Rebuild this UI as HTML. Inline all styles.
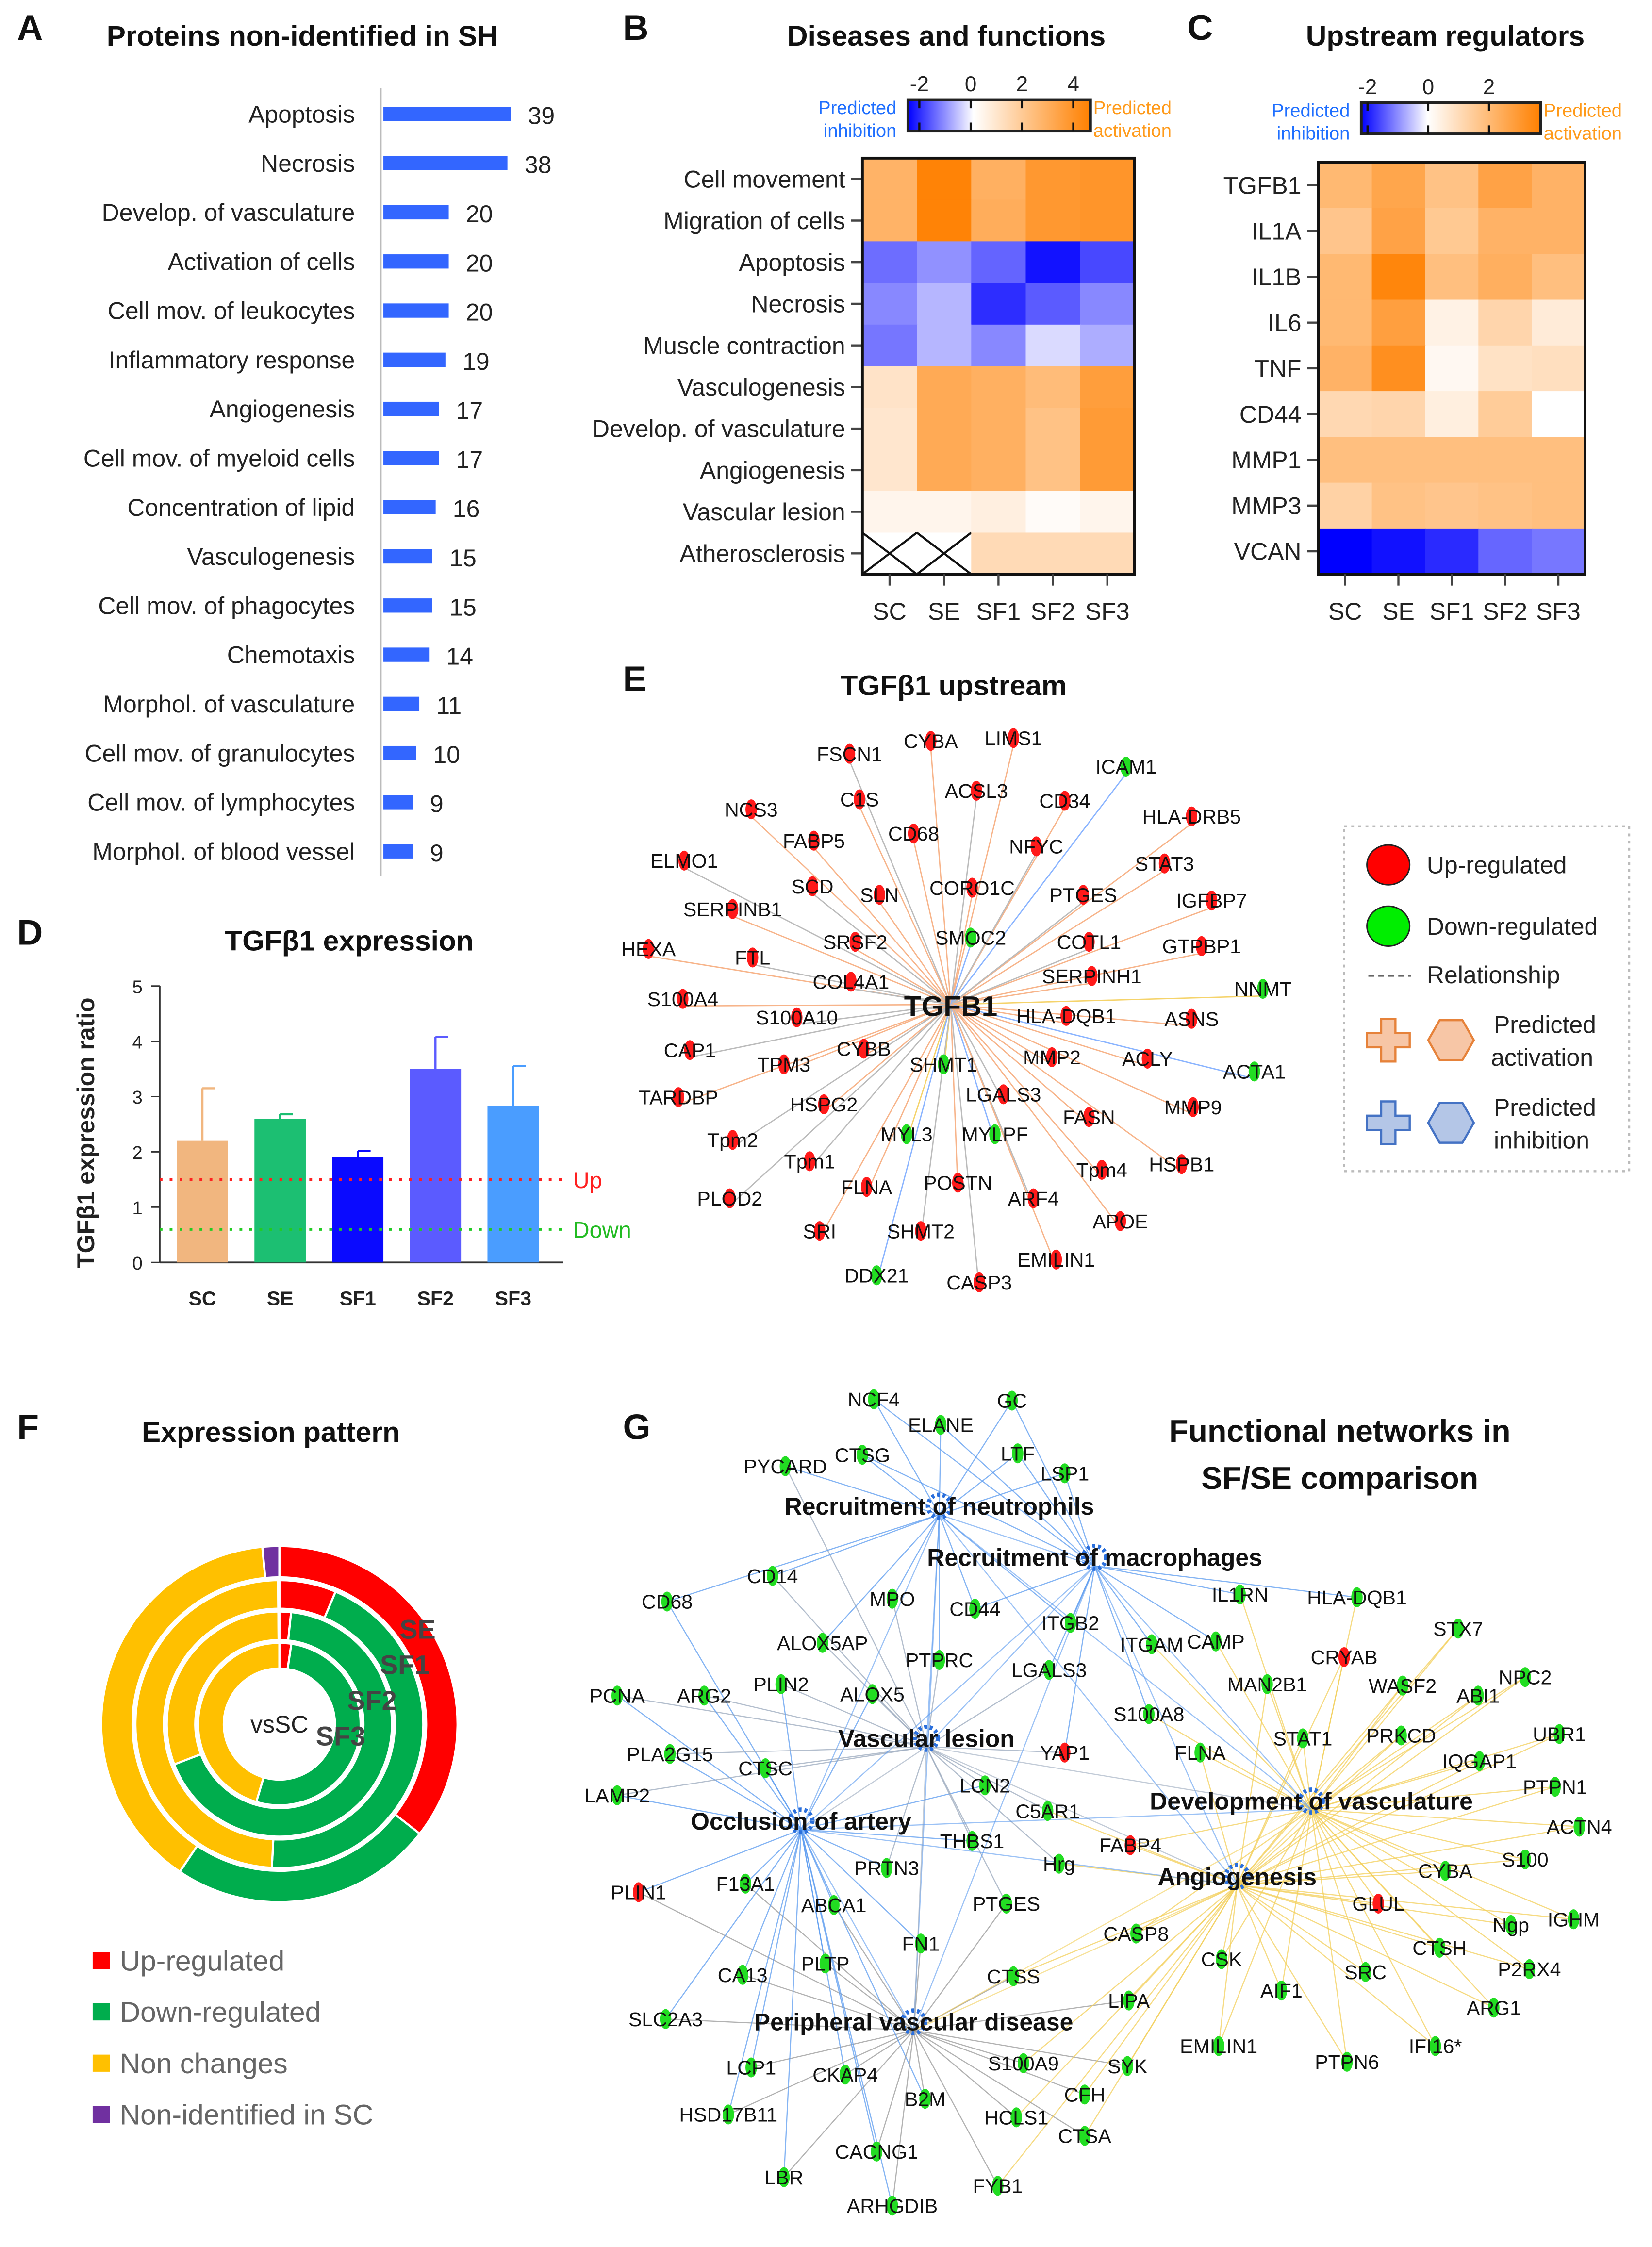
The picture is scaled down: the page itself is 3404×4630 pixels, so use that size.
<!DOCTYPE html>
<html><head><meta charset="utf-8"><style>
html,body{margin:0;padding:0;background:#fff}
svg{display:block;font-family:"Liberation Sans",Arial,sans-serif}
</style></head><body>
<svg id="fig" width="3404" height="4630" viewBox="0 0 1159 1577" preserveAspectRatio="none" xmlns="http://www.w3.org/2000/svg">
<defs>
<linearGradient id="gB" x1="0" x2="1"><stop offset="0" stop-color="#0000ff"/><stop offset="0.36" stop-color="#fff"/><stop offset="1" stop-color="#ff8000"/></linearGradient>
<linearGradient id="gC" x1="0" x2="1"><stop offset="0" stop-color="#0000ff"/><stop offset="0.37" stop-color="#fff"/><stop offset="1" stop-color="#ff8000"/></linearGradient>
</defs>
<g id="layer"></g>
</svg>
<script>
// ---------- Panel A data ----------
const aCats=["Apoptosis","Necrosis","Develop. of vasculature","Activation of cells","Cell mov. of leukocytes","Inflammatory response","Angiogenesis","Cell mov. of myeloid cells","Concentration of lipid","Vasculogenesis","Cell mov. of phagocytes","Chemotaxis","Morphol. of vasculature","Cell mov. of granulocytes","Cell mov. of lymphocytes","Morphol. of blood vessel"];
const aVals=[39,38,20,20,20,19,17,17,16,15,15,14,11,10,9,9];
// ---------- Panel B data ----------
const bRows=["Cell movement","Migration of cells","Apoptosis","Necrosis","Muscle contraction","Vasculogenesis","Develop. of vasculature","Angiogenesis","Vascular lesion","Atherosclerosis"];
const bCols=["SC","SE","SF1","SF2","SF3"];
const bVals=[[2.5,4.1,2.6,3.4,3.5],[2.5,4.1,2.7,3.4,3.5],[-1.6,-1.2,-1.7,-2.6,-2.0],[-1.3,-0.8,-2.3,-1.8,-1.3],[-1.5,-0.8,-1.3,-0.4,-0.9],[0.9,2.8,2.6,2.2,3.2],[0.8,2.8,2.6,2.0,3.3],[0.8,2.8,2.6,2.0,3.3],[0.3,0.3,0.5,0.1,0.3],[null,null,1.2,1.2,1.2]];
const bTicks=[-2,0,2,4];
// ---------- Panel C data ----------
const cRows=["TGFB1","IL1A","IL1B","IL6","TNF","CD44","MMP1","MMP3","VCAN"];
const cVals=[[2.2,2.8,1.9,2.9,2.4],[1.8,2.9,1.7,2.4,2.4],[2.2,3.8,2.0,2.5,2.0],[2.2,3.0,0.4,1.3,0.6],[2.4,3.5,0.2,0.9,1.0],[1.2,1.3,0.5,1.6,0],[2.0,2.0,2.0,2.0,2.0],[1.4,1.9,1.8,1.9,2.0],[-3.0,-2.8,-2.5,-1.8,-1.6]];
const cTicks=[-2,0,2];
// ---------- Panel D data ----------
const dCats=["SC","SE","SF1","SF2","SF3"];
const dVals=[2.2,2.6,1.9,3.5,2.83];
const dErr=[0.95,0.08,0.12,0.58,0.72];
const dTicks=[0,1,2,3,4,5];
const dUp=1.5, dDown=0.6;
// ---------- Panel F data (degrees clockwise from top) ----------
const fRings=["SE","SF1","SF2","SF3"];
const fUp=[128,23,6,8.5];
const fDown=[86,160,243,188];
const fNon=[140.5,176.5,110.5,163.5];
const fNonId=[5.5,0.5,0.5,0];
// ---------- Panel E nodes ----------
const eNodes=[["FSCN1",596,534,"r"],["CYBA",653,525,"r"],["LIMS1",711,523,"r"],["ICAM1",790,543,"g"],["NCS3",527,573,"r"],["C1S",603,566,"r"],["ACSL3",685,560,"r"],["CD34",747,567,"r"],["HLA-DRB5",836,578,"r"],["ELMO1",480,609,"r"],["FABP5",571,595,"r"],["CD68",641,590,"r"],["NFYC",727,599,"r"],["STAT3",817,611,"r"],["SERPINB1",514,643,"r"],["SCD",570,627,"r"],["SLN",617,633,"r"],["CORO1C",682,628,"r"],["PTGES",760,633,"r"],["IGFBP7",850,637,"r"],["HEXA",455,671,"r"],["FTL",528,677,"r"],["SRSF2",600,666,"r"],["SMOC2",681,663,"g"],["COTL1",764,666,"r"],["GTPBP1",843,669,"r"],["NNMT",886,699,"g"],["COL4A1",597,694,"r"],["SERPINH1",766,690,"r"],["S100A4",479,706,"r"],["S100A10",559,719,"r"],["HLA-DQB1",748,718,"r"],["ASNS",836,720,"r"],["CAP1",484,742,"r"],["CYBB",606,741,"r"],["TPM3",550,752,"r"],["SHMT1",662,752,"g"],["MMP2",738,747,"r"],["ACLY",805,748,"r"],["ACTA1",880,757,"g"],["TARDBP",476,775,"r"],["HSPG2",578,780,"r"],["LGALS3",704,773,"r"],["FASN",764,789,"r"],["MMP9",837,782,"r"],["Tpm2",514,805,"r"],["MYL3",636,801,"g"],["MYLPF",698,801,"g"],["Tpm1",568,820,"r"],["HSPB1",829,822,"r"],["Tpm4",773,826,"r"],["PLOD2",512,846,"r"],["FLNA",608,838,"r"],["POSTN",672,835,"r"],["ARF4",725,846,"r"],["APOE",786,862,"r"],["SRI",575,869,"r"],["SHMT2",646,869,"r"],["EMILIN1",741,889,"r"],["DDX21",615,900,"g"],["CASP3",687,905,"r"]];
// ---------- Panel G ----------
const gHubs=[["Recruitment of neutrophils",659,1063],["Recruitment of macrophages",768,1099],["Vascular lesion",650,1226],["Occlusion of artery",562,1284],["Development of vasculature",920,1270],["Angiogenesis",868,1323],["Peripheral vascular disease",641,1425]];
const gNodes=[["NCF4",613,987,"g"],["GC",710,988,"g"],["ELANE",660,1005,"g"],["LTF",714,1025,"g"],["PYCARD",551,1034,"g"],["CTSG",605,1026,"g"],["LSP1",747,1039,"g"],["CD14",542,1111,"g"],["CD68",468,1129,"g"],["MPO",626,1127,"g"],["CD44",684,1134,"g"],["IL1RN",870,1124,"g"],["HLA-DQB1",952,1126,"g"],["STX7",1023,1148,"g"],["ALOX5AP",577,1158,"g"],["ITGB2",751,1144,"g"],["ITGAM",808,1159,"g"],["CAMP",853,1157,"g"],["PTPRC",659,1170,"g"],["CRYAB",943,1168,"r"],["NPC2",1070,1182,"g"],["PCNA",433,1195,"g"],["ARG2",494,1195,"g"],["PLIN2",548,1187,"g"],["ALOX5",612,1194,"g"],["LGALS3",736,1177,"g"],["MAN2B1",889,1187,"g"],["WASF2",984,1188,"g"],["ABI1",1037,1195,"g"],["S100A8",806,1208,"g"],["UBR1",1094,1222,"g"],["PLA2G15",470,1236,"g"],["YAP1",747,1235,"r"],["FLNA",842,1235,"g"],["STAT1",914,1225,"g"],["PRKCD",983,1223,"g"],["CTSC",537,1246,"g"],["IQGAP1",1038,1241,"g"],["LCN2",691,1258,"g"],["PTPN1",1091,1259,"g"],["LAMP2",433,1265,"g"],["C5AR1",735,1276,"g"],["ACTN4",1108,1287,"g"],["THBS1",682,1297,"g"],["FABP4",793,1300,"r"],["Hrg",743,1313,"g"],["PRTN3",622,1316,"g"],["F13A1",523,1327,"g"],["S100",1070,1310,"g"],["CYBA",1014,1318,"g"],["PLIN1",448,1333,"r"],["ABCA1",585,1342,"g"],["PTGES",706,1341,"g"],["GLUL",967,1341,"r"],["IGHM",1104,1352,"g"],["Ngp",1060,1356,"g"],["CASP8",797,1362,"g"],["CTSH",1010,1372,"g"],["CSK",857,1380,"g"],["SRC",958,1389,"g"],["P2RX4",1073,1387,"g"],["CA13",521,1391,"g"],["PLTP",579,1383,"g"],["FN1",646,1369,"g"],["CTSS",711,1392,"g"],["AIF1",899,1402,"g"],["LIPA",792,1409,"g"],["ARG1",1048,1414,"g"],["SLC2A3",467,1422,"g"],["EMILIN1",855,1441,"g"],["PTPN6",945,1452,"g"],["IFI16*",1007,1441,"g"],["LCP1",527,1456,"g"],["CKAP4",593,1461,"g"],["S100A9",718,1453,"g"],["SYK",791,1455,"g"],["B2M",649,1478,"g"],["CFH",761,1475,"g"],["HSD17B11",511,1489,"g"],["HCLS1",713,1491,"g"],["CTSA",761,1504,"g"],["CACNG1",615,1515,"g"],["FYB1",700,1539,"g"],["LBR",550,1533,"g"],["ARHGDIB",626,1553,"g"]];

const NS="http://www.w3.org/2000/svg";
const L=document.getElementById('layer');
function mk(tag,attrs,parent){const e=document.createElementNS(NS,tag);for(const k in attrs)e.setAttribute(k,attrs[k]);(parent||L).appendChild(e);return e;}
function tx(str,x,y,size,opt){opt=opt||{};const e=mk('text',{x:x,y:y,'font-size':size,fill:opt.fill||'#222','text-anchor':opt.anchor||'start','font-weight':opt.weight||'normal'},opt.parent);e.textContent=str;return e;}
function grp(name){const g=mk('g',{});return g;}

// panel letters & titles
[["A",12,28],["B",437,28],["C",833,28],["D",12,663],["E",437,485],["F",12,1010],["G",437,1010]].forEach(p=>{const t=tx(p[0],p[1],p[2],25,{weight:'bold',fill:'#111'});});
[["Proteins non-identified in SH",212,32],["Diseases and functions",664,32],["Upstream regulators",1014,32],["TGFβ1 expression",245,667],["TGFβ1 upstream",669,488],["Expression pattern",190,1012]].forEach(p=>{const t=tx(p[0],p[1],p[2],20,{weight:'bold',anchor:'middle',fill:'#111'});});
{const t=tx("Functional networks in",940,1012,22,{weight:'bold',anchor:'middle',fill:'#111'});
const t2=tx("SF/SE comparison",940,1045,22,{weight:'bold',anchor:'middle',fill:'#111'});}

// ---------- Panel A ----------
{const g=grp('panel-a-bar-chart');
const xA=v=>269+v*2.29, yA=i=>80+i*34.5;
const ax=mk('line',{x1:267,y1:62,x2:267,y2:615,stroke:'#bbb','stroke-width':1.5},g);
aCats.forEach((c,i)=>{const b=mk('rect',{x:xA(0),y:yA(i)-5,width:xA(aVals[i])-xA(0),height:10,fill:'#3366ff'},g);

const l=tx(c,249,yA(i)+6,17,{anchor:'end',parent:g});
const v=tx(String(aVals[i]),xA(aVals[i])+12,yA(i)+7,17,{parent:g});});}

// ---------- heatmap helpers ----------
function hcol(v,neg,pos){if(v===null)return '#fff';let r,gg,b;if(v<0){const t=Math.min(1,-v/neg);r=255*(1-t);gg=255*(1-t);b=255;}else{const t=Math.min(1,v/pos);r=255;gg=255-127*t;b=255-255*t;}return `rgb(${r|0},${gg|0},${b|0})`;}
function heat(name,rows,vals,x0,y0,x1,y1,neg,pos,cbx0,cbx1,cby,ticks,tickX,grad){
const g=grp(name);const cw=(x1-x0)/5,rh=(y1-y0)/rows.length;
rows.forEach((r,i)=>{vals[i].forEach((v,j)=>{const c=mk('rect',{x:x0+j*cw,y:y0+i*rh,width:cw+0.5,height:rh+0.5,fill:hcol(v,neg,pos)},g);
if(v===null){mk('line',{x1:x0+j*cw,y1:y0+i*rh,x2:x0+(j+1)*cw,y2:y0+(i+1)*rh,stroke:'#111','stroke-width':1.5},g);mk('line',{x1:x0+(j+1)*cw,y1:y0+i*rh,x2:x0+j*cw,y2:y0+(i+1)*rh,stroke:'#111','stroke-width':1.5},g);}});
const yc=y0+(i+0.5)*rh;mk('line',{x1:x0-8,y1:yc,x2:x0,y2:yc,stroke:'#444','stroke-width':1.5},g);
const l=tx(r,x0-12,yc+6,17,{anchor:'end',parent:g});});
const fr=mk('rect',{x:x0,y:y0,width:x1-x0,height:y1-y0,fill:'none',stroke:'#111','stroke-width':2},g);
bCols.forEach((c,j)=>{const xc=x0+(j+0.5)*cw;mk('line',{x1:xc,y1:y1,x2:xc,y2:y1+8,stroke:'#444','stroke-width':1.5},g);const l=tx(c,xc,y1+32,17,{anchor:'middle',parent:g});});
const cb=mk('rect',{x:cbx0,y:cby,width:cbx1-cbx0,height:22,fill:'url(#'+grad+')',stroke:'#222','stroke-width':2},g);
ticks.forEach(t=>{const x=tickX(t);mk('line',{x1:x,y1:cby,x2:x,y2:cby+6,stroke:'#111','stroke-width':1.5},g);mk('line',{x1:x,y1:cby+16,x2:x,y2:cby+22,stroke:'#111','stroke-width':1.5},g);const l=tx(String(t),x,cby-6,15,{anchor:'middle',parent:g});});
const a=tx("Predicted",cbx0-8,cby+10,13,{anchor:'end',fill:'#1f6fff',parent:g});tx("inhibition",cbx0-8,cby+26,13,{anchor:'end',fill:'#1f6fff',parent:g});
const b=tx("Predicted",cbx1+2,cby+10,13,{fill:'#ff9a1a',parent:g});tx("activation",cbx1+2,cby+26,13,{fill:'#ff9a1a',parent:g});}
heat('panel-b-heatmap',bRows,bVals,605,111,796,403,2.8,4.2,637,765,70,bTicks,t=>681+t*18,'gB');
heat('panel-c-heatmap',cRows,cVals,925,114,1112,403,3.0,4.0,955,1081,72,cTicks,t=>1002+t*21.3,'gC');

// ---------- Panel D ----------
{const g=grp('panel-d-bar-chart');const y=v=>886-v*38.8, xs=i=>142+i*54.5;const cols=['#f1b67f','#1cbf72','#0a0aff','#5b5bff','#4a9dff'];
mk('line',{x1:112,y1:y(0),x2:112,y2:y(5),stroke:'#333','stroke-width':1.3},g);mk('line',{x1:112,y1:y(0),x2:395,y2:y(0),stroke:'#333','stroke-width':1.3},g);
dTicks.forEach(t=>{mk('line',{x1:106,y1:y(t),x2:112,y2:y(t),stroke:'#333'},g);const l=tx(String(t),100,y(t)+5,13,{anchor:'end',parent:g});});
const yt=tx("TGFβ1 expression ratio",0,0,17,{weight:'bold',anchor:'middle',parent:g});yt.setAttribute('transform','translate(66,795) rotate(-90)');
dCats.forEach((c,i)=>{const b=mk('rect',{x:xs(i)-18,y:y(dVals[i]),width:36,height:y(0)-y(dVals[i]),fill:cols[i]},g);
const ye=y(dVals[i]+dErr[i]);mk('line',{x1:xs(i),y1:y(dVals[i]),x2:xs(i),y2:ye,stroke:cols[i],'stroke-width':1.5},g);mk('line',{x1:xs(i),y1:ye,x2:xs(i)+9,y2:ye,stroke:cols[i],'stroke-width':1.5},g);
const l=tx(c,xs(i),916,14,{weight:'bold',anchor:'middle',parent:g});});
const u=mk('line',{x1:112,y1:y(dUp),x2:395,y2:y(dUp),stroke:'#ff2020','stroke-width':2,'stroke-dasharray':'2 5'},g);
const d=mk('line',{x1:112,y1:y(dDown),x2:395,y2:y(dDown),stroke:'#22cc22','stroke-width':2,'stroke-dasharray':'2 5'},g);
tx("Up",402,y(dUp)+6,16,{fill:'#ff2020',parent:g});tx("Down",402,y(dDown)+6,16,{fill:'#22bb22',parent:g});}

// ---------- node glyph ----------
function glyph(g,x,y,c){const col=c==='r'?'#ff1a1a':'#22dd22';mk('ellipse',{cx:x,cy:y,rx:4,ry:7,fill:col},g);}

// ---------- Panel E ----------
{const g=grp('panel-e-network');const cx=667,cy=705;
eNodes.forEach((n,i)=>{const col=n[3]==='g'?(i%2?'#8ab4ff':'#f5d36a'):(i%3?'#f7b48a':'#bbbbbb');const e=mk('line',{x1:cx,y1:cy,x2:n[1],y2:n[2],stroke:col,'stroke-width':0.9},g);});
eNodes.forEach(n=>{glyph(g,n[1],n[2]-5,n[3]);const l=tx(n[0],n[1],n[2],14,{anchor:'middle',fill:'#111',parent:g});});
const t=tx("TGFB1",cx,cy+8,20,{weight:'bold',anchor:'middle',fill:'#111',parent:g});
// legend
const lg=grp('panel-e-legend');mk('rect',{x:943,y:580,width:200,height:242,fill:'none',stroke:'#bbb','stroke-width':1.5,'stroke-dasharray':'2 3'},lg);
mk('ellipse',{cx:974,cy:607,rx:15,ry:14,fill:'#ff0000',stroke:'#222'},lg);tx("Up-regulated",1001,613,17,{parent:lg});
mk('ellipse',{cx:974,cy:650,rx:15,ry:14,fill:'#00ee00',stroke:'#222'},lg);tx("Down-regulated",1001,656,17,{parent:lg});
mk('line',{x1:960,y1:685,x2:990,y2:685,stroke:'#666','stroke-dasharray':'4 3'},lg);tx("Relationship",1001,690,17,{parent:lg});
const cross='M-5,-15h10v10h10v10h-10v10h-10v-10h-10v-10h10z';
mk('path',{d:cross,transform:'translate(974,730)',fill:'#f7c6a6',stroke:'#e6823a','stroke-width':1.5},lg);mk('path',{d:'M-8,-14h16l8,14l-8,14h-16l-8,-14z',transform:'translate(1018,730)',fill:'#f7c6a6',stroke:'#e6823a','stroke-width':1.5},lg);
tx("Predicted",1048,725,17,{parent:lg});tx("activation",1046,748,17,{parent:lg});
mk('path',{d:cross,transform:'translate(974,788)',fill:'#b4c6e7',stroke:'#4472c4','stroke-width':1.5},lg);mk('path',{d:'M-8,-14h16l8,14l-8,14h-16l-8,-14z',transform:'translate(1018,788)',fill:'#b4c6e7',stroke:'#4472c4','stroke-width':1.5},lg);
tx("Predicted",1048,783,17,{parent:lg});tx("inhibition",1048,806,17,{parent:lg});}

// ---------- Panel F ----------
{const g=grp('panel-f-donut');const cx=196,cy=1210;const radii=[[103,125],[81,101],[59,79],[39,57]];
const cols=['#ff0000','#00ad4d','#ffc000','#7030a0'];
function arc(r0,r1,a0,a1){const p=(r,a)=>[cx+r*Math.sin(a*Math.PI/180),cy-r*Math.cos(a*Math.PI/180)];const lg=(a1-a0)>180?1:0;const A=p(r1,a0),B=p(r1,a1),C=p(r0,a1),D=p(r0,a0);
return `M${A[0]},${A[1]}A${r1},${r1} 0 ${lg} 1 ${B[0]},${B[1]}L${C[0]},${C[1]}A${r0},${r0} 0 ${lg} 0 ${D[0]},${D[1]}Z`;}
fRings.forEach((rn,i)=>{let a=0;[fUp[i],fDown[i],fNon[i],fNonId[i]].forEach((v,k)=>{if(v<=0)return;const s=mk('path',{d:arc(radii[i][0],radii[i][1],a,a+v),fill:cols[k],stroke:'#fff','stroke-width':1.5},g);a+=v;});});
tx("vsSC",196,1216,17,{anchor:'middle',fill:'#222',parent:g});
[["SE",293,1150],["SF1",284,1175],["SF2",261,1200],["SF3",239,1225]].forEach(p=>{const l=tx(p[0],p[1],p[2],19,{weight:'bold',anchor:'middle',fill:'#444',parent:g});});
const lg=grp('panel-f-legend');[["Up-regulated",'#ff0000'],["Down-regulated",'#00ad4d'],["Non changes",'#ffc000'],["Non-identified in SC",'#7030a0']].forEach((e,i)=>{const y=1376+i*36;const r=mk('rect',{x:65,y:y-6,width:12,height:12,fill:e[1]},lg);const t=tx(e[0],84,y+7,20,{fill:'#666',parent:lg});});}

// ---------- Panel G ----------
{const g=grp('panel-g-network');const hc=['#5b9bf0','#5b9bf0','#9aa9bd','#5b9bf0','#f3cf5a','#f3cf5a','#999999'];
gNodes.forEach(n=>{const d=gHubs.map((h,k)=>[Math.hypot(h[1]-n[1],h[2]-n[2]),k]).sort((a,b)=>a[0]-b[0]);[d[0][1],d[1][1]].forEach(k=>{const e=mk('line',{x1:gHubs[k][1],y1:gHubs[k][2],x2:n[1],y2:n[2]-5,stroke:hc[k],'stroke-width':0.8,opacity:0.75},g);});});
gHubs.forEach((h,k)=>{for(let j=k+1;j<gHubs.length;j++){mk('line',{x1:h[1],y1:h[2],x2:gHubs[j][1],y2:gHubs[j][2],stroke:hc[k],'stroke-width':0.8,opacity:0.6},g);}});
gNodes.forEach(n=>{glyph(g,n[1],n[2]-5,n[3]);const l=tx(n[0],n[1],n[2],14,{anchor:'middle',fill:'#111',parent:g});});
gHubs.forEach(h=>{mk('circle',{cx:h[1],cy:h[2]-6,r:8,fill:'none',stroke:'#2a6fdc','stroke-width':3,'stroke-dasharray':'2 2'},g);const l=tx(h[0],h[1],h[2],17,{weight:'bold',anchor:'middle',fill:'#111',parent:g});});}
</script>
</body></html>
